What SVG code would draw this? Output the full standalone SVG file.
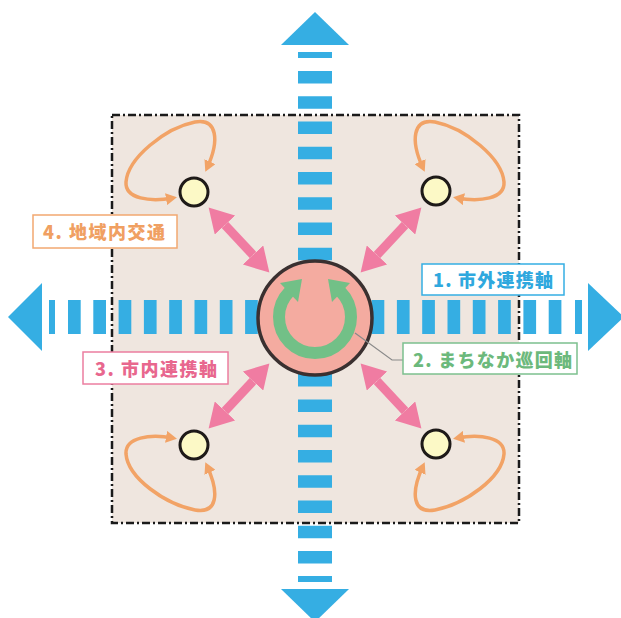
<svg xmlns="http://www.w3.org/2000/svg" width="621" height="618" viewBox="0 0 621 618">
<style>
.blue{fill:#35aee3}
.dash{stroke:#35aee3;fill:none}
.pink{stroke:#f07ca2;stroke-width:9;fill:none}
.loop{stroke:#f2a366;stroke-width:3.5;fill:none}
.node{fill:#fcf9c6;stroke:#1e1a18;stroke-width:3}
.lbl{font-family:"Noto Sans CJK JP","Noto Sans",sans-serif;font-weight:900;font-size:18px}
.box{fill:#ffffff;stroke-width:1.5}
</style>
<defs>
<marker id="ph" markerUnits="userSpaceOnUse" markerWidth="26" markerHeight="28" refX="0" refY="14" orient="auto-start-reverse">
<path d="M0,0 L24,14 L0,28 z" fill="#f07ca2"/>
</marker>
<marker id="oh" markerUnits="userSpaceOnUse" markerWidth="12" markerHeight="12" refX="7" refY="6" orient="auto-start-reverse">
<path d="M0,0 L11,6 L0,12 z" fill="#f2a366"/>
</marker>
</defs>
<rect width="621" height="618" fill="#ffffff"/>
<g id="frame">
<rect x="112" y="115" width="407" height="408" fill="#efe6df" stroke="#1a1a1a" stroke-width="2.5" stroke-dasharray="8 3 2 3"/>
</g>
<g id="connectors">
<g id="axis-v">
<line class="dash" x1="315" y1="71" x2="315" y2="564" stroke-width="34" stroke-dasharray="12.5 12.76"/>
<rect class="blue" x="298" y="52" width="34" height="6"/>
<rect class="blue" x="298" y="576" width="34" height="6"/>
<polygon class="blue" points="315,12 281,45 349,45"/>
<polygon class="blue" points="315,622 281,589 349,589"/>
</g>
<g id="axis-h">
<line class="dash" x1="68" y1="317" x2="562" y2="317" stroke-width="34" stroke-dasharray="12.7 12.6"/>
<rect class="blue" x="49" y="300" width="6" height="34"/>
<rect class="blue" x="575" y="300" width="7" height="34"/>
<polygon class="blue" points="8,317 42,283 42,351"/>
<polygon class="blue" points="624,317 588,283 588,351"/>
</g>
<g id="links">
<line class="pink" x1="225" y1="225" x2="253" y2="255" marker-start="url(#ph)" marker-end="url(#ph)"/>
<line class="pink" x1="405" y1="225" x2="377" y2="255" marker-start="url(#ph)" marker-end="url(#ph)"/>
<line class="pink" x1="225" y1="411" x2="253" y2="381" marker-start="url(#ph)" marker-end="url(#ph)"/>
<line class="pink" x1="405" y1="411" x2="377" y2="381" marker-start="url(#ph)" marker-end="url(#ph)"/>
</g>
<g id="loops">
<path class="loop" d="M207,168 C220,140 217,118 195,122 C165,128 128,158 126,182 C125,199 150,202 173,198" marker-start="url(#oh)" marker-end="url(#oh)"/>
<path class="loop" d="M423,168 C410,140 413,118 435,122 C465,128 502,158 504,182 C505,199 480,202 457,198" marker-start="url(#oh)" marker-end="url(#oh)"/>
<path class="loop" d="M207,466 C220,494 217,514 195,510 C165,504 128,478 126,454 C125,437 150,434 173,438" marker-start="url(#oh)" marker-end="url(#oh)"/>
<path class="loop" d="M423,466 C410,494 413,514 435,510 C465,504 502,478 504,454 C505,437 480,434 457,438" marker-start="url(#oh)" marker-end="url(#oh)"/>
</g>
</g>
<g id="center">
<circle cx="315" cy="318" r="57" fill="#f4aba0" stroke="#3a3030" stroke-width="3.5"/>
<path d="M289.5,291.5 A36,36 0 1 0 340.5,291.5" fill="none" stroke="#72c087" stroke-width="12"/>
<polygon points="302,279 280,283 298,302" fill="#72c087"/>
<polygon points="328,279 350,283 332,302" fill="#72c087"/>
</g>
<g id="node-tl"><circle class="node" cx="194" cy="192" r="14"/></g>
<g id="node-tr"><circle class="node" cx="436" cy="191" r="14"/></g>
<g id="node-bl"><circle class="node" cx="194" cy="445" r="14"/></g>
<g id="node-br"><circle class="node" cx="436" cy="444" r="14"/></g>
<g id="label-1">
<rect class="box" x="422" y="264" width="142" height="31" stroke="#35aee3"/>
<text class="lbl" x="433" y="287" fill="#2fa8de" textLength="120" lengthAdjust="spacing">1. 市外連携軸</text>
</g>
<g id="label-2">
<polyline points="355,333 392,360 403,360" fill="none" stroke="#8a8a8a" stroke-width="1.2"/>
<rect class="box" x="403" y="343" width="174" height="31" stroke="#7cc08e"/>
<text class="lbl" x="413" y="367" fill="#6cb97c" textLength="159" lengthAdjust="spacing">2. まちなか巡回軸</text>
</g>
<g id="label-3">
<rect class="box" x="83" y="352" width="145" height="32" stroke="#ec7ea0"/>
<text class="lbl" x="95" y="376" fill="#e8678e" textLength="122" lengthAdjust="spacing">3. 市内連携軸</text>
</g>
<g id="label-4">
<rect class="box" x="33" y="215" width="144" height="33" stroke="#f2a870"/>
<text class="lbl" x="43" y="239" fill="#f0a062" textLength="122" lengthAdjust="spacing">4. 地域内交通</text>
</g>
</svg>
